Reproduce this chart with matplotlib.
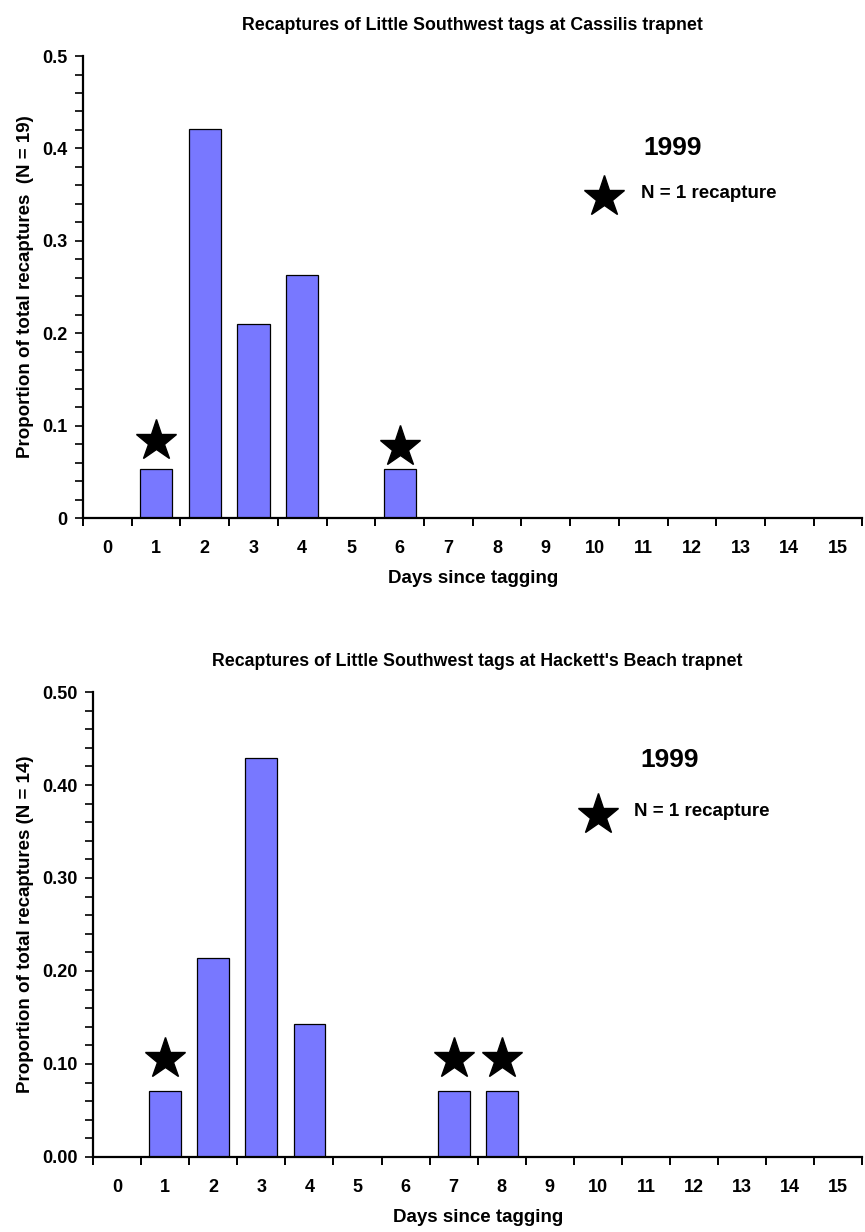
import numpy as np
import matplotlib
matplotlib.use('Agg')
import matplotlib.pyplot as plt
from matplotlib.ticker import MultipleLocator, FormatStrFormatter, FuncFormatter

plt.rcParams['font.family'] = ['Liberation Sans', 'DejaVu Sans']
plt.rcParams['font.weight'] = 'bold'

# Days since tagging (categories)
days = list(range(16))

# Cassilis trapnet, 1999 (N = 19)
cassilis = [0, 1/19, 8/19, 4/19, 5/19, 0, 1/19, 0, 0, 0, 0, 0, 0, 0, 0, 0]
cassilis_star_days = [1, 6]
cassilis_star_y = [0.083, 0.077]

# Hackett's Beach trapnet, 1999 (N = 14)
hackett = [0, 1/14, 3/14, 6/14, 2/14, 0, 0, 1/14, 1/14, 0, 0, 0, 0, 0, 0, 0]
hackett_star_days = [1, 7, 8]
hackett_star_y = [0.105, 0.105, 0.105]

bar_color = '#7878FF'

fig = plt.figure(figsize=(8.65, 12.32), dpi=100)
ax1 = fig.add_axes([0.096, 0.5795, 0.901, 0.375])
ax2 = fig.add_axes([0.1075, 0.0609, 0.8895, 0.3774])


def draw_panel(ax, values, star_days, star_y, title, ylabel, fmt, year_pos, leg_pos):
    ax.bar(days, values, width=0.66, color=bar_color, edgecolor='black', linewidth=0.9)
    ax.plot(star_days, star_y, linestyle='none', marker='*', markersize=31,
            color='black')
    ax.set_xlim(-0.5, 15.5)
    ax.set_ylim(0, 0.5)
    for side in ['top', 'right']:
        ax.spines[side].set_visible(False)
    ax.spines['left'].set_linewidth(1.6)
    ax.spines['bottom'].set_linewidth(1.6)

    # x: ticks between categories, labels at category centres
    ax.set_xticks(np.arange(-0.5, 16, 1))
    ax.set_xticklabels([])
    ax.set_xticks(days, minor=True)
    ax.set_xticklabels([str(d) for d in days], minor=True)
    ax.tick_params(axis='x', which='major', direction='out', length=6, width=1.4)
    ax.tick_params(axis='x', which='minor', length=0, pad=16, labelsize=13)

    ax.yaxis.set_major_locator(MultipleLocator(0.1))
    ax.yaxis.set_minor_locator(MultipleLocator(0.02))
    ax.yaxis.set_major_formatter(fmt)
    ax.tick_params(axis='y', which='both', direction='out', length=6, width=1.2,
                   labelsize=13, pad=5)

    ax.set_title(title, fontsize=12.8, fontweight='bold', pad=19)
    ax.set_xlabel('Days since tagging', fontsize=13.5, fontweight='bold', labelpad=9)
    ax.set_ylabel(ylabel, fontsize=13.5, fontweight='bold', labelpad=6)

    ax.text(year_pos[0], year_pos[1], '1999', fontsize=19, fontweight='bold',
            ha='center', va='center')
    ax.plot([leg_pos[0]], [leg_pos[1]], linestyle='none', marker='*',
            markersize=31, color='black')
    ax.text(leg_pos[0] + 0.75, leg_pos[1] + 0.003, 'N = 1 recapture', fontsize=13.5,
            fontweight='bold', ha='left', va='center')


def fmt_top(v, pos):
    if abs(v) < 1e-9:
        return '0'
    return ('%.1f' % v)


draw_panel(ax1, cassilis, cassilis_star_days, cassilis_star_y,
           'Recaptures of Little Southwest tags at Cassilis trapnet',
           'Proportion of total recaptures  (N = 19)',
           FuncFormatter(fmt_top), (11.6, 0.40), (10.2, 0.348))

draw_panel(ax2, hackett, hackett_star_days, hackett_star_y,
           "Recaptures of Little Southwest tags at Hackett's Beach trapnet",
           'Proportion of total recaptures (N = 14)',
           FormatStrFormatter('%.2f'), (11.5, 0.427), (10.0, 0.368))

fig.savefig('out.png', dpi=100)
